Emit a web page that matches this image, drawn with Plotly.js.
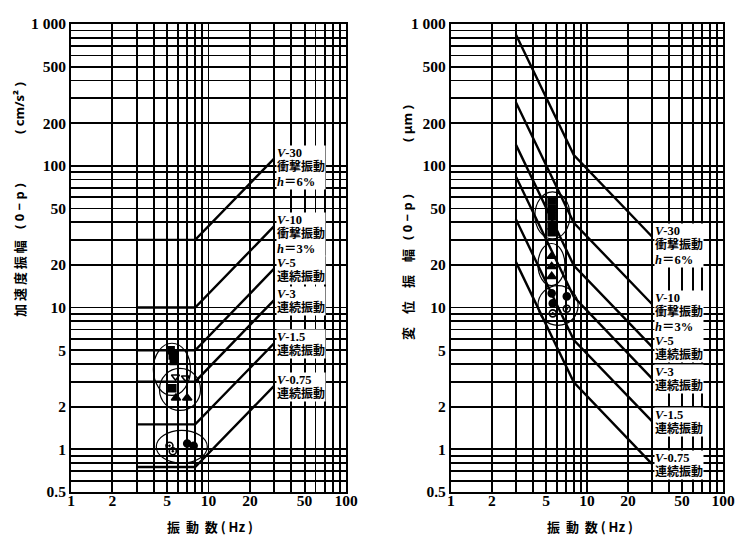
<!DOCTYPE html>
<html><head><meta charset="utf-8">
<script src="https://cdn.plot.ly/plotly-3.0.1.min.js"></script>
<style>html,body{margin:0;padding:0;background:#fff}#chart{width:753px;height:547px}</style>
</head><body><div id="chart"></div>
<script>
// ---- criteria curves (knot frequencies, Hz) ----
const freqKnots = [3, 8, 30];
const criteriaNames = ['V-30','V-10','V-5','V-3','V-1.5','V-0.75'];
const criteriaKinds = ['衝撃振動','衝撃振動','連続振動','連続振動','連続振動','連続振動'];
const criteriaDamping = ['h＝6%','h＝3%','','','',''];
// acceleration amplitude (cm/s^2)
const accV30 = [30, 30, 112.5];
const accV10 = [10, 10, 37.5];
const accV5 = [5, 5, 18.8];
const accV3 = [3, 3, 11.3];
const accV15 = [1.5, 1.5, 5.6];
const accV075 = [0.75, 0.75, 2.8];
// displacement amplitude (um)
const dispV30 = [844, 119, 31.7];
const dispV10 = [281, 39.6, 10.6];
const dispV5 = [141, 19.8, 5.3];
const dispV3 = [84, 11.9, 3.17];
const dispV15 = [42, 5.9, 1.58];
const dispV075 = [21, 2.97, 0.79];

// ---- measured points ----
const accSqF = [5.3, 5.5, 5.6, 5.45];
const accSqA = [5.0, 4.6, 4.2, 2.7];
const accTdF = [5.75, 6.8];
const accTdA = [3.25, 3.2];
const accTrF = [5.8, 7.0];
const accTrA = [2.3, 2.3];
const accDotF = [7.0, 7.8];
const accDotA = [1.1, 1.06];
const accOpenF = [5.2, 5.5];
const accOpenA = [1.06, 0.97];

const dispSqF = [5.5, 5.5, 5.5, 5.5, 5.5];
const dispSqD = [57, 50, 44, 38, 34];
const dispTrF = [5.5, 5.5, 5.5];
const dispTrD = [23, 19.5, 16.6];
const dispDotF = [5.5, 7.1, 5.6];
const dispDotD = [12.6, 12.0, 10.7];
const dispOpenF = [7.1, 5.6];
const dispOpenD = [9.8, 9.1];

// ---- group ellipses (freq range, amplitude range) ----
const accEllF0 = [3.97, 4.4, 4.17];
const accEllF1 = [7.4, 8.75, 9.8];
const accEllY0 = [2.4, 1.88, 0.80];
const accEllY1 = [5.6, 3.72, 1.36];
const dispEllF0 = [4.14, 4.36, 4.36];
const dispEllF1 = [7.5, 6.88, 8.6];
const dispEllY0 = [30.5, 14.3, 7.5];
const dispEllY1 = [65.5, 28.3, 14.3];

// ---- axis ticks ----
const xTickVals = [1, 2, 5, 10, 20, 50, 100];
const xTickText = ['1', '2', '5', '10', '20', '50', '100'];
const yTickVals = [0.5, 1, 2, 5, 10, 20, 50, 100, 200, 500, 1000];
const yTickText = ['0.5', '1', '2', '5', '10', '20', '50', '100', '200', '500', '1 000'];

function gridTicks(lo, hi, labVals, labText) {
  const vals = [], text = [];
  for (let e = lo; e <= hi; e++) {
    for (let d = 1; d <= 9; d++) {
      const v = +(d * Math.pow(10, e)).toPrecision(6);
      vals.push(v);
      const i = labVals.findIndex(t => Math.abs(t - v) < 1e-9);
      text.push(i >= 0 ? labText[i] : '');
    }
  }
  return {vals, text};
}
const xg = gridTicks(0, 2, xTickVals, xTickText);
const yg = gridTicks(-1, 3, yTickVals, yTickText);

const accSeries = [accV30, accV10, accV5, accV3, accV15, accV075];
const dispSeries = [dispV30, dispV10, dispV5, dispV3, dispV15, dispV075];

const traces = [];
accSeries.forEach((s, i) => traces.push({x: freqKnots, y: s, xaxis: 'x', yaxis: 'y', mode: 'lines',
  line: {color: '#000', width: 2.4}, name: criteriaNames[i], showlegend: false, hoverinfo: 'skip'}));
dispSeries.forEach((s, i) => traces.push({x: freqKnots, y: s, xaxis: 'x2', yaxis: 'y2', mode: 'lines',
  line: {color: '#000', width: 2.4}, name: criteriaNames[i], showlegend: false, hoverinfo: 'skip'}));

function pts(x, y, ax, sym, size) {
  return {x, y, xaxis: ax[0], yaxis: ax[1], mode: 'markers', showlegend: false,
    marker: {symbol: sym, size: size, color: '#000', line: {color: '#000', width: 1.6}}};
}
traces.push(pts(accSqF, accSqA, ['x','y'], 'square', 7));
traces.push(pts(accTdF, accTdA, ['x','y'], 'triangle-down-open', 7));
traces.push(pts(accTrF, accTrA, ['x','y'], 'triangle-up', 8));
traces.push(pts(accDotF, accDotA, ['x','y'], 'circle', 7));
traces.push(pts(accOpenF, accOpenA, ['x','y'], 'circle-open-dot', 7));
traces.push(pts(dispSqF, dispSqD, ['x2','y2'], 'square', 7));
traces.push(pts(dispTrF, dispTrD, ['x2','y2'], 'triangle-up', 8));
traces.push(pts(dispDotF, dispDotD, ['x2','y2'], 'circle', 7));
traces.push(pts(dispOpenF, dispOpenD, ['x2','y2'], 'circle-open-dot', 7));

const shapes = [];
accEllF0.forEach((f, i) => shapes.push({type: 'circle', xref: 'x', yref: 'y', x0: f, x1: accEllF1[i],
  y0: accEllY0[i], y1: accEllY1[i], line: {color: '#000', width: 1.2}}));
dispEllF0.forEach((f, i) => shapes.push({type: 'circle', xref: 'x2', yref: 'y2', x0: f, x1: dispEllF1[i],
  y0: dispEllY0[i], y1: dispEllY1[i], line: {color: '#000', width: 1.2}}));

const tickFont = {family: 'Liberation Serif, DejaVu Serif, serif', size: 15.5, color: '#000'};
const labelFont = {family: 'Liberation Serif, Noto Sans CJK JP, serif', size: 11, color: '#000'};
const cjkFont = {family: 'Noto Sans CJK JP, sans-serif', size: 13, color: '#000'};
const unitFont = {family: 'Noto Sans, DejaVu Sans, sans-serif', size: 13, color: '#000'};

const annotations = [];
function labelText(i) {
  let t = '<b><span style="font-size:12.5px">' + criteriaNames[i].replace('V', '<i>V</i>') + '</span><br>' +
    '<span style="font-family:\'Noto Sans CJK JP\';font-size:12px">' + criteriaKinds[i] + '</span>';
  if (criteriaDamping[i]) t += '<br><span style="font-size:12.5px">' + criteriaDamping[i].replace('h', '<i>h</i>') + '</span>';
  return t + '</b>';
}
function addLabel(xr, yr, endVal, i) {
  annotations.push({xref: xr, yref: yr, x: Math.log10(freqKnots[2]), y: Math.log10(endVal),
    text: labelText(i), showarrow: false, xanchor: 'left', yanchor: 'top', align: 'left',
    yshift: 14, xshift: 2, bgcolor: '#fff', borderpad: 0, font: labelFont});
}
accSeries.forEach((s, i) => addLabel('x', 'y', s[2], i));
dispSeries.forEach((s, i) => addLabel('x2', 'y2', s[2], i));

// axis titles (pieces placed like the original)
const H = 547, W = 753;
function piece(text, px, py, font, angle) {
  return {xref: 'paper', yref: 'paper', x: px / W, y: 1 - py / H, xanchor: 'center', yanchor: 'middle',
    textangle: angle, showarrow: false, text: '<b>' + text + '</b>', font: font};
}
annotations.push(piece('加 速 度 振 幅', 19, 279, cjkFont, -90));
annotations.push(piece('( 0 − p )', 19, 206, unitFont, -90));
annotations.push(piece('( cm/s² )', 19, 108, unitFont, -90));
annotations.push(piece('変　位　振　幅', 407, 295, cjkFont, -90));
annotations.push(piece('( 0 − p )', 407, 217, unitFont, -90));
annotations.push(piece('( μm )', 407, 124, unitFont, -90));
annotations.push(piece('振  動  数 ( Hz )', 210, 526, cjkFont, 0));
annotations.push(piece('振  動  数 ( Hz )', 590, 526, cjkFont, 0));

function xAxis(dom, anchor) {
  return {type: 'log', domain: dom, anchor: anchor, range: [0, 2], tickmode: 'array',
    tickvals: xg.vals, ticktext: xg.text.map(t => t ? '<b>' + t + '</b>' : ''), ticks: '',
    ticklabelstandoff: -7,
    showgrid: true, gridcolor: '#000', gridwidth: 1.8, zeroline: false,
    showline: true, linecolor: '#000', linewidth: 2, mirror: true, tickfont: tickFont};
}
function yAxis(anchor) {
  return {type: 'log', domain: [0.1005, 0.9561], anchor: anchor, range: [Math.log10(0.5), 3],
    tickmode: 'array', tickvals: yg.vals, ticktext: yg.text.map(t => t ? '<b>' + t + '</b>' : ''),
    ticks: '', showgrid: true, gridcolor: '#000', gridwidth: 1.8, zeroline: false,
    showline: true, linecolor: '#000', linewidth: 2, mirror: true, tickfont: tickFont};
}

const layout = {
  width: 753, height: 547, margin: {l: 0, r: 0, t: 0, b: 0},
  paper_bgcolor: '#fff', plot_bgcolor: '#fff', showlegend: false,
  xaxis: xAxis([0.0943, 0.4595], 'y'), yaxis: yAxis('x'),
  xaxis2: xAxis([0.5989, 0.9602], 'y2'), yaxis2: yAxis('x2'),
  shapes: shapes, annotations: annotations
};
Plotly.newPlot('chart', traces, layout, {displayModeBar: false, staticPlot: true});
</script></body></html>
